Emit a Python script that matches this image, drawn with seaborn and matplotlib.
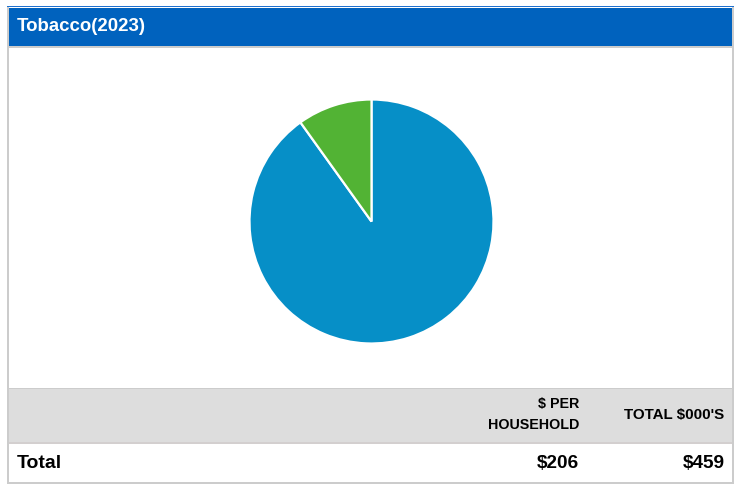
import matplotlib
matplotlib.use("Agg")
import matplotlib.pyplot as plt
from matplotlib.patches import Rectangle
import seaborn as sns

# ---- data ----
title = "Tobacco(2023)"
segments = ["Segment A", "Segment B"]
shares = [90.1, 9.9]
segment_colors = ["#068FC7", "#52B334"]
column_headers = ["$ PER\nHOUSEHOLD", "TOTAL $000'S"]
row_label = "Total"
per_household = 206
total_thousands = 459

sns.set_style("white")
plt.rcParams["font.family"] = ["Liberation Sans", "DejaVu Sans"]

W, H = 743, 486
fig = plt.figure(figsize=(W / 100, H / 100), dpi=100)
fig.patch.set_facecolor("white")

# panel frame drawn in pixel coordinates
bg = fig.add_axes([0, 0, 1, 1])
bg.set_xlim(0, W)
bg.set_ylim(H, 0)
bg.axis("off")

border = "#CCCCCC"
header_blue = "#0062BE"

def rect(x0, y0, x1, y1, color, z=1):
    bg.add_patch(Rectangle((x0, y0), x1 - x0, y1 - y0, facecolor=color,
                           edgecolor="none", zorder=z))

# outer frame
rect(7, 6, 734, 7.5, "#1E70CF", 2)          # thin top accent line
rect(7, 7.5, 9, 483.5, border)              # left edge
rect(731.5, 7.5, 733.5, 483.5, border)      # right edge
rect(9, 8, 731.5, 46, header_blue, 2)       # title band
rect(9, 46, 731.5, 48, border)              # under title
# table header band and rows
rect(9, 387.5, 731.5, 389, border)
rect(9, 389, 731.5, 442, "#DDDDDD")
rect(9, 442, 731.5, 444, "#D3CFCF")
rect(9, 482, 731.5, 483.5, border)

bg.text(17, 26.5, title, color="white", fontsize=13.4, fontweight="bold",
        ha="left", va="center")

bg.text(579, 414.5, column_headers[0], color="black", fontsize=10.3,
        fontweight="bold", ha="right", va="center", linespacing=1.55,
        multialignment="right")
bg.text(724.5, 414.5, column_headers[1], color="black", fontsize=10.9,
        fontweight="bold", ha="right", va="center")

bg.text(17, 463, row_label, color="black", fontsize=14, fontweight="bold",
        ha="left", va="center")
bg.text(579, 463, f"${per_household}", color="black", fontsize=13.7,
        fontweight="bold", ha="right", va="center")
bg.text(724.5, 463, f"${total_thousands}", color="black", fontsize=13.7,
        fontweight="bold", ha="right", va="center")

# pie
cx, cy, r = 371.5, 221.5, 122
pie_ax = fig.add_axes([(cx - r) / W, (H - cy - r) / H, 2 * r / W, 2 * r / H])
pie_ax.pie(shares, colors=segment_colors, startangle=90, counterclock=False,
           wedgeprops=dict(edgecolor="white", linewidth=1.6))
pie_ax.set_xlim(-1, 1)
pie_ax.set_ylim(-1, 1)
pie_ax.set_aspect("equal")
pie_ax.axis("off")

fig.savefig("out.png", dpi=100, facecolor="white")
